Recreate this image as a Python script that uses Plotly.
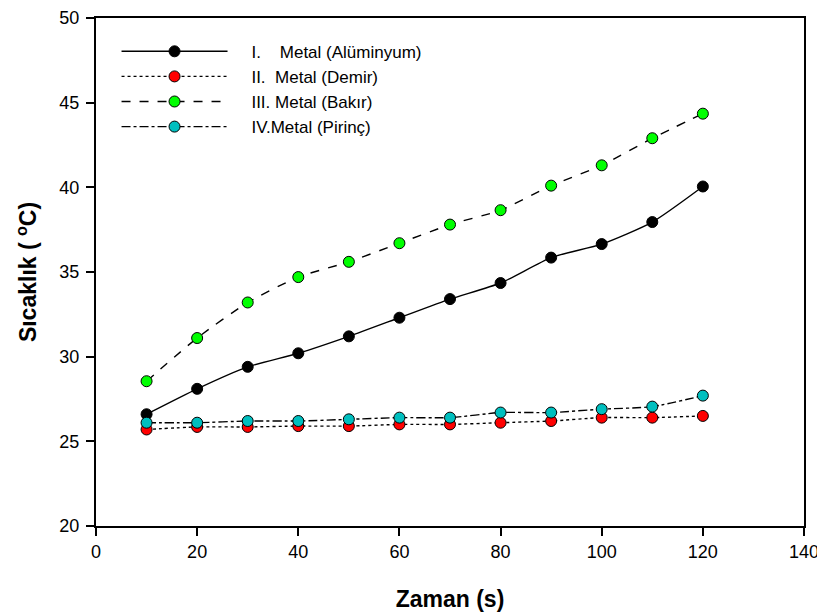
import plotly.graph_objects as go

zaman = [10, 20, 30, 40, 50, 60, 70, 80, 90, 100, 110, 120]
aluminyum = [26.6, 28.1, 29.4, 30.2, 31.2, 32.3, 33.4, 34.35, 35.85, 36.65, 37.95, 40.05]
demir = [25.7, 25.85, 25.85, 25.9, 25.9, 26.0, 26.0, 26.1, 26.2, 26.4, 26.4, 26.5]
bakir = [28.55, 31.1, 33.2, 34.7, 35.6, 36.7, 37.8, 38.65, 40.1, 41.3, 42.9, 44.35]
pirinc = [26.1, 26.1, 26.2, 26.2, 26.3, 26.4, 26.4, 26.7, 26.7, 26.9, 27.05, 27.7]

NB = "\u00a0"
pad = NB * 4
names = [pad + "I." + NB * 4 + "Metal (Alüminyum)",
         pad + "II." + NB * 2 + "Metal (Demir)",
         pad + "III. Metal (Bakır)",
         pad + "IV.Metal (Pirinç)"]
series = [aluminyum, demir, bakir, pirinc]
fills = ["#000000", "#ff0000", "#00ff00", "#00bfbf"]
dashes = ["solid", "dot", "dash", "dashdot"]

fig = go.Figure()
for nm, ys, fc, ds in zip(names, series, fills, dashes):
    fig.add_trace(go.Scatter(
        x=zaman, y=ys, name=nm, mode="lines+markers",
        line=dict(color="black", width=1.4, dash=ds, shape="spline", smoothing=0.6),
        marker=dict(size=11, color=fc, line=dict(color="black", width=1)),
    ))

fig.update_layout(
    width=817, height=604,
    margin=dict(l=88, r=21, t=10, b=86, autoexpand=False),
    paper_bgcolor="white", plot_bgcolor="white",
    font=dict(family="Liberation Sans, Arial, sans-serif", size=18, color="black"),
    showlegend=True,
    legend=dict(x=0.029, y=0.969, xanchor="left", yanchor="top",
                bgcolor="rgba(0,0,0,0)", font=dict(size=17),
                itemwidth=106, tracegroupgap=0),
)
fig.update_xaxes(
    range=[0, 140], tickvals=[0, 20, 40, 60, 80, 100, 120, 140],
    showline=True, linecolor="black", linewidth=2, mirror=True,
    ticks="outside", ticklen=8, tickwidth=2, tickcolor="black",
    tickfont=dict(size=18), automargin=False,
    showgrid=False, zeroline=False,
    title=dict(text="<b>Zaman (s)</b>", font=dict(size=23), standoff=35),
)
fig.update_yaxes(
    range=[20, 50], tickvals=[20, 25, 30, 35, 40, 45, 50],
    showline=True, linecolor="black", linewidth=2, mirror=True,
    ticks="outside", ticklen=8, tickwidth=2, tickcolor="black",
    tickfont=dict(size=18), automargin=False, ticklabelstandoff=3,
    showgrid=False, zeroline=False,
    title=dict(text="<b>Sıcaklık ( <sup>o</sup>C)</b>", font=dict(size=23), standoff=16),
)

fig.write_html("out.html")
